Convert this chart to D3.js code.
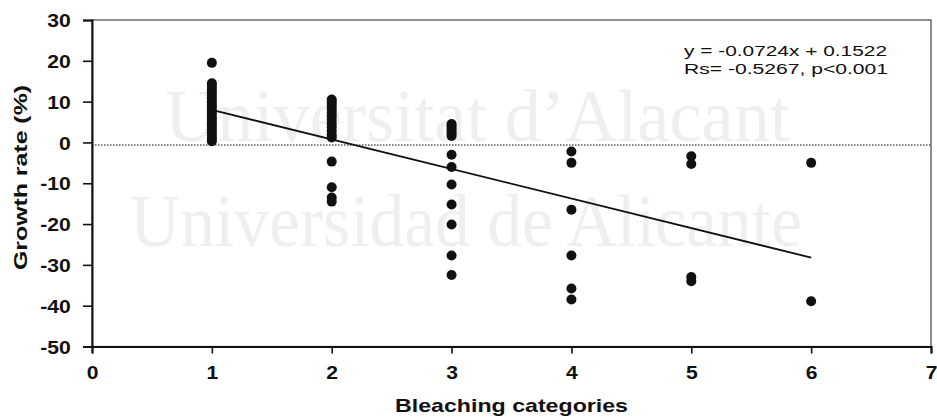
<!DOCTYPE html>
<html>
<head>
<meta charset="utf-8">
<script src="https://cdn.jsdelivr.net/npm/d3@7"></script>
<style>
  html, body { margin: 0; padding: 0; background: #fff; }
  svg { display: block; }
</style>
</head>
<body>
<div id="chart"></div>
<script>
// growth rate (%) per bleaching category
const cat1 = [19.5, 14.5, 13.8, 13, 12.3, 11.5, 10.8, 10, 9.2, 8.5, 7.7, 7, 6.2, 5.5, 4.7, 4, 3.2, 2.5, 1.7, 1, 0.3];
const cat2 = [10.5, 10, 9.4, 8.8, 8, 7.2, 6.4, 5.5, 4.6, 3.7, 2.8, 1.9, 1.2, -4.7, -11, -13.5, -14.5];
const cat3 = [4.5, 4, 3.4, 2.8, 2.2, 1.6, -3, -6, -10.3, -15.2, -20.1, -27.7, -32.5];
const cat4 = [-2.2, -5, -16.5, -27.7, -35.8, -38.5];
const cat5 = [-3.4, -5.3, -33, -34];
const cat6 = [-5, -38.9];
const groups = [cat1, cat2, cat3, cat4, cat5, cat6];

const xTicks = [0, 1, 2, 3, 4, 5, 6, 7];
const yTicks = [30, 20, 10, 0, -10, -20, -30, -40, -50];
const slope = -0.0724, intercept = 0.1522;   // proportions, plotted as %
const fitRange = [1, 6];
const refLine = -0.6;

const W = 937, H = 418;
const stretch = 1.13;   // the original figure's tick text is a bit wide
const svg = d3.select('#chart').append('svg')
  .attr('width', W).attr('height', H)
  .style('font-family', '"Liberation Sans", Arial, sans-serif');

const x = d3.scaleLinear().domain([0, 7]).range([92, 931]);
const y = d3.scaleLinear().domain([-50, 30]).range([346.5, 20]);

// watermark
const wm = svg.append('g')
  .attr('fill', '#efefef')
  .style('font-family', '"Liberation Serif", "DejaVu Serif", serif')
  .attr('font-size', 74);
wm.append('text').attr('x', 165).attr('y', 141)
  .attr('textLength', 625).attr('lengthAdjust', 'spacingAndGlyphs')
  .text('Universitat d\u2019Alacant');
wm.append('text').attr('x', 130).attr('y', 246)
  .attr('textLength', 672).attr('lengthAdjust', 'spacingAndGlyphs')
  .text('Universidad de Alicante');

// frame
svg.append('rect')
  .attr('x', x(0)).attr('y', y(30))
  .attr('width', x(7) - x(0)).attr('height', y(-50) - y(30))
  .attr('fill', 'none').attr('stroke', '#444').attr('stroke-width', 1.2);

// dotted zero line
svg.append('line')
  .attr('x1', x(0)).attr('x2', x(7))
  .attr('y1', y(refLine)).attr('y2', y(refLine))
  .attr('stroke', '#555').attr('stroke-width', 1.5)
  .attr('stroke-dasharray', '1.5,1.5');

// axes
const yAxis = svg.append('g')
  .attr('transform', `translate(${x(0)},0)`)
  .call(d3.axisLeft(y).tickValues(yTicks).tickSize(9).tickPadding(12.3).tickFormat(d => String(d)));
const xAxis = svg.append('g')
  .attr('transform', `translate(0,${y(-50)})`)
  .call(d3.axisBottom(x).tickValues(xTicks).tickSize(7).tickPadding(12.5).tickFormat(d => String(d)));

[yAxis, xAxis].forEach(g => {
  g.select('.domain').attr('stroke', '#111').attr('stroke-width', 2);
  g.selectAll('.tick line').attr('stroke', '#111').attr('stroke-width', 1.6);
  g.selectAll('.tick text')
    .attr('fill', '#111')
    .attr('font-size', 18.7)
    .attr('font-weight', 'bold')
    .attr('x', function() { return +d3.select(this).attr('x') / stretch; })
    .attr('transform', `scale(${stretch},1)`)
    .style('font-family', '"Liberation Sans", Arial, sans-serif');
});
yAxis.selectAll('.tick text').attr('dy', '0.36em');

// axis titles
svg.append('text')
  .attr('x', 395).attr('y', 412)
  .attr('textLength', 233).attr('lengthAdjust', 'spacingAndGlyphs')
  .attr('font-size', 19).attr('font-weight', 'bold').attr('fill', '#111')
  .text('Bleaching categories');
svg.append('text')
  .attr('transform', 'translate(27,270) rotate(-90)')
  .attr('textLength', 185).attr('lengthAdjust', 'spacingAndGlyphs')
  .attr('font-size', 19).attr('font-weight', 'bold').attr('fill', '#111')
  .text('Growth rate (%)');

// regression line
svg.append('line')
  .attr('x1', x(fitRange[0])).attr('y1', y((slope * fitRange[0] + intercept) * 100))
  .attr('x2', x(fitRange[1])).attr('y2', y((slope * fitRange[1] + intercept) * 100))
  .attr('stroke', '#111').attr('stroke-width', 1.8);

// points
const pts = groups.flatMap((vals, i) => vals.map(v => ({ c: i + 1, v })));
svg.append('g')
  .selectAll('circle')
  .data(pts)
  .join('circle')
  .attr('cx', d => x(d.c))
  .attr('cy', d => y(d.v))
  .attr('r', 5)
  .attr('fill', '#111');

// equation
const eq = svg.append('g').attr('fill', '#111').attr('font-size', 15.5);
eq.append('text').attr('x', 684).attr('y', 56)
  .attr('textLength', 203).attr('lengthAdjust', 'spacingAndGlyphs')
  .text('y = -0.0724x + 0.1522');
eq.append('text').attr('x', 684).attr('y', 74)
  .attr('textLength', 204).attr('lengthAdjust', 'spacingAndGlyphs')
  .text('Rs= -0.5267,  p<0.001');
</script>
</body>
</html>
